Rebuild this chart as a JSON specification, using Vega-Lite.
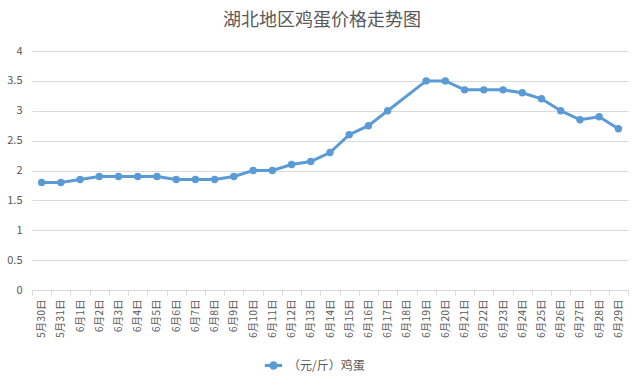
{
  "$schema": "https://vega.github.io/schema/vega-lite/v6.json",
  "width": 596,
  "height": 239,
  "autosize": {"type": "none"},
  "padding": {"left": 32, "top": 51, "right": 16, "bottom": 94},
  "background": "#ffffff",
  "title": {
    "text": "湖北地区鸡蛋价格走势图",
    "font": "Noto Sans CJK SC",
    "fontSize": 18,
    "fontWeight": "normal",
    "color": "#595959",
    "anchor": "middle",
    "dx": -8,
    "offset": 15
  },
  "data": {
    "values": [
      {"date": "5月30日", "price": 1.8, "series": "（元/斤）鸡蛋"},
      {"date": "5月31日", "price": 1.8, "series": "（元/斤）鸡蛋"},
      {"date": "6月1日", "price": 1.85, "series": "（元/斤）鸡蛋"},
      {"date": "6月2日", "price": 1.9, "series": "（元/斤）鸡蛋"},
      {"date": "6月3日", "price": 1.9, "series": "（元/斤）鸡蛋"},
      {"date": "6月4日", "price": 1.9, "series": "（元/斤）鸡蛋"},
      {"date": "6月5日", "price": 1.9, "series": "（元/斤）鸡蛋"},
      {"date": "6月6日", "price": 1.85, "series": "（元/斤）鸡蛋"},
      {"date": "6月7日", "price": 1.85, "series": "（元/斤）鸡蛋"},
      {"date": "6月8日", "price": 1.85, "series": "（元/斤）鸡蛋"},
      {"date": "6月9日", "price": 1.9, "series": "（元/斤）鸡蛋"},
      {"date": "6月10日", "price": 2.0, "series": "（元/斤）鸡蛋"},
      {"date": "6月11日", "price": 2.0, "series": "（元/斤）鸡蛋"},
      {"date": "6月12日", "price": 2.1, "series": "（元/斤）鸡蛋"},
      {"date": "6月13日", "price": 2.15, "series": "（元/斤）鸡蛋"},
      {"date": "6月14日", "price": 2.3, "series": "（元/斤）鸡蛋"},
      {"date": "6月15日", "price": 2.6, "series": "（元/斤）鸡蛋"},
      {"date": "6月16日", "price": 2.75, "series": "（元/斤）鸡蛋"},
      {"date": "6月17日", "price": 3.0, "series": "（元/斤）鸡蛋"},
      {"date": "6月18日", "price": null, "series": "（元/斤）鸡蛋"},
      {"date": "6月19日", "price": 3.5, "series": "（元/斤）鸡蛋"},
      {"date": "6月20日", "price": 3.5, "series": "（元/斤）鸡蛋"},
      {"date": "6月21日", "price": 3.35, "series": "（元/斤）鸡蛋"},
      {"date": "6月22日", "price": 3.35, "series": "（元/斤）鸡蛋"},
      {"date": "6月23日", "price": 3.35, "series": "（元/斤）鸡蛋"},
      {"date": "6月24日", "price": 3.3, "series": "（元/斤）鸡蛋"},
      {"date": "6月25日", "price": 3.2, "series": "（元/斤）鸡蛋"},
      {"date": "6月26日", "price": 3.0, "series": "（元/斤）鸡蛋"},
      {"date": "6月27日", "price": 2.85, "series": "（元/斤）鸡蛋"},
      {"date": "6月28日", "price": 2.9, "series": "（元/斤）鸡蛋"},
      {"date": "6月29日", "price": 2.7, "series": "（元/斤）鸡蛋"}
    ]
  },
  "transform": [{"filter": "datum.price != null"}],
  "mark": {
    "type": "line",
    "strokeWidth": 3,
    "point": {"filled": true, "size": 55}
  },
  "encoding": {
    "x": {
      "field": "date",
      "type": "ordinal",
      "bandPosition": 0.5,
      "scale": {
        "type": "band",
        "paddingInner": 0,
        "paddingOuter": 0,
        "domain": ["5月30日","5月31日","6月1日","6月2日","6月3日","6月4日","6月5日","6月6日","6月7日","6月8日","6月9日","6月10日","6月11日","6月12日","6月13日","6月14日","6月15日","6月16日","6月17日","6月18日","6月19日","6月20日","6月21日","6月22日","6月23日","6月24日","6月25日","6月26日","6月27日","6月28日","6月29日"]
      },
      "axis": {
        "title": null,
        "labelAngle": -90,
        "labelFont": "Noto Sans CJK SC",
        "labelFontSize": 10.5,
        "labelColor": "#595959",
        "labelPadding": 4,
        "tickBand": "extent",
        "tickSize": 5,
        "tickColor": "#D9D9D9",
        "domainColor": "#D9D9D9",
        "grid": false
      }
    },
    "y": {
      "field": "price",
      "type": "quantitative",
      "scale": {"domain": [0, 4]},
      "axis": {
        "title": null,
        "values": [0, 0.5, 1, 1.5, 2, 2.5, 3, 3.5, 4],
        "format": "~g",
        "labelFont": "Noto Sans CJK SC",
        "labelFontSize": 11,
        "labelColor": "#595959",
        "labelPadding": 10,
        "ticks": false,
        "domain": false,
        "gridColor": "#D9D9D9",
        "gridWidth": 1
      }
    },
    "color": {
      "field": "series",
      "type": "nominal",
      "scale": {"range": ["#5B9BD5"]},
      "legend": {
        "title": null,
        "orient": "none",
        "legendX": 231,
        "legendY": 304,
        "direction": "horizontal",
        "labelFont": "Noto Sans CJK SC",
        "labelFontSize": 12,
        "labelColor": "#595959",
        "symbolType": "M-1,0H1M0.32,0A0.32,0.32,0,1,1,-0.32,0A0.32,0.32,0,1,1,0.32,0",
        "symbolSize": 300,
        "symbolStrokeWidth": 3,
        "symbolFillColor": "#5B9BD5"
      }
    }
  },
  "config": {"view": {"stroke": null}}
}
